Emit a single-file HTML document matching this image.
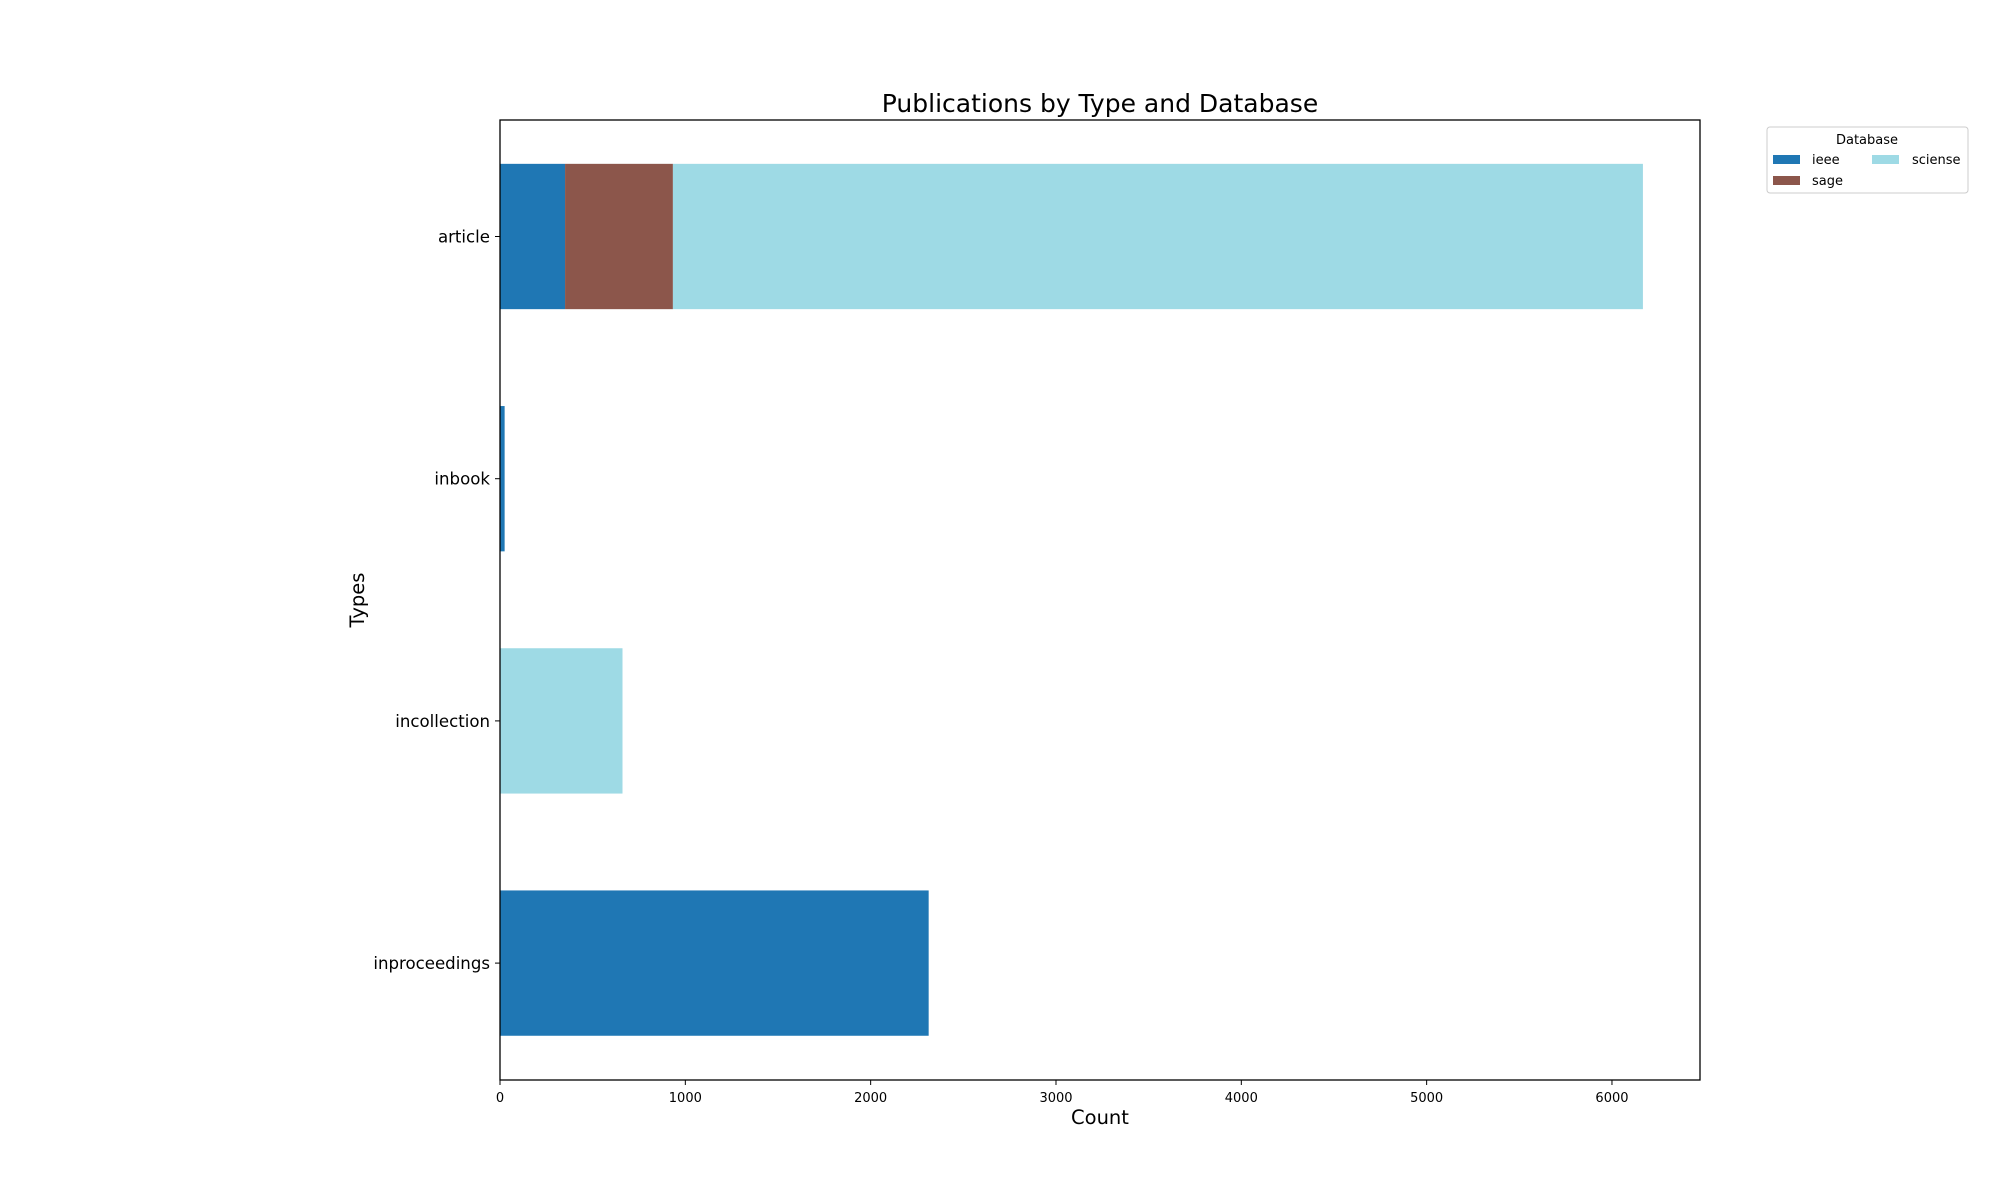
<!DOCTYPE html>
<html><head><meta charset="utf-8"><style>body{margin:0;background:#fff}svg{display:block;font-family:"DejaVu Sans","Liberation Sans",sans-serif}</style></head>
<body>
<svg id="chart" width="2000" height="1200"></svg>
<script>
const categories = ["article","inbook","incollection","inproceedings"];
const seriesNames = ["ieee","sage","sciense"];
const ieee = [351, 25, 0, 2313];
const sage = [582, 0, 0, 0];
const sciense = [5234, 0, 661, 0];
const xTicks = [0,1000,2000,3000,4000,5000,6000];
const colors = ["#1f77b4","#8c564b","#9edae5"];
const L=500,R=1700,T=120,B=1080,XMAX=6475;
const x=v=>L+v/XMAX*(R-L);
const band=242.2;
const yc=i=>236.5+band*i;
const NS="http://www.w3.org/2000/svg";
const svg=document.getElementById('chart');
function mk(tag,attrs,text){const e=document.createElementNS(NS,tag);for(const k in attrs)e.setAttribute(k,attrs[k]);if(text!==undefined)e.textContent=text;svg.appendChild(e);return e;}
const series=[ieee,sage,sciense];
categories.forEach((c,i)=>{let acc=0;series.forEach((s,j)=>{const v=s[i];if(v>0){const r=mk('rect',{x:x(acc),y:yc(i)-band*0.3,width:x(acc+v)-x(acc),height:band*0.6,fill:colors[j]});

}acc+=v;});
const t=mk('line',{x1:L-5,x2:L,y1:yc(i),y2:yc(i),stroke:'#000'});


const l=mk('text',{x:L-10,y:yc(i)+6,'text-anchor':'end','font-size':16.6,fill:'#000'},c);

});
xTicks.forEach(v=>{const t=mk('line',{x1:x(v),x2:x(v),y1:B,y2:B+5,stroke:'#000'});


const l=mk('text',{x:x(v),y:B+22,'text-anchor':'middle','font-size':13,fill:'#000'},String(v));

});
const f=mk('rect',{x:L,y:T,width:R-L,height:B-T,fill:'none',stroke:'#000','stroke-width':1.3});


</script>
<div style="position:absolute;left:0;top:0;width:2000px;height:1200px;pointer-events:none">
<svg width="2000" height="1200" style="font-family:'DejaVu Sans','Liberation Sans',sans-serif">
<text x="1100" y="112" text-anchor="middle" font-size="25">Publications by Type and Database</text>
<text x="1100" y="1124" text-anchor="middle" font-size="19.5">Count</text>
<text x="364" y="600" text-anchor="middle" font-size="19.5" transform="rotate(-90 364 600)">Types</text>
<g>
<rect x="1767" y="127" width="201" height="66" rx="3" fill="#fff" stroke="#ccc"/>
<text x="1867" y="144" text-anchor="middle" font-size="13">Database</text>
<rect x="1773" y="155" width="27" height="9" fill="#1f77b4"/>
<text x="1812" y="164" font-size="13">ieee</text>
<rect x="1773" y="176" width="27" height="9" fill="#8c564b"/>
<text x="1812" y="185" font-size="13">sage</text>
<rect x="1872" y="155" width="27" height="9" fill="#9edae5"/>
<text x="1912" y="164" font-size="13">sciense</text>
</g>
</svg></div>
</body></html>
